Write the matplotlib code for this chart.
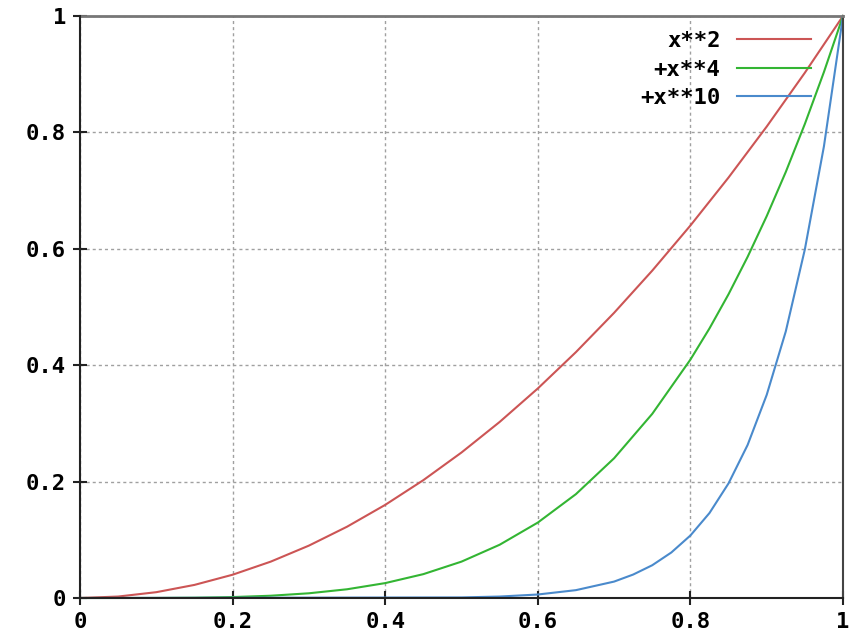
import matplotlib
matplotlib.use("Agg")
import matplotlib.pyplot as plt

# Data
x_sq = [0, 0.05, 0.1, 0.15, 0.2, 0.25, 0.3, 0.35, 0.4, 0.45, 0.5, 0.55, 0.6, 0.65, 0.7, 0.75, 0.8, 0.85, 0.9, 0.95, 1.0]
y_sq = [0, 0.0025, 0.01, 0.0225, 0.04, 0.0625, 0.09, 0.1225, 0.16, 0.2025, 0.25, 0.3025, 0.36, 0.4225, 0.49, 0.5625, 0.64, 0.7225, 0.81, 0.9025, 1.0]

x_4 = [0, 0.05, 0.1, 0.15, 0.2, 0.25, 0.3, 0.35, 0.4, 0.45, 0.5, 0.55, 0.6, 0.65, 0.7, 0.75, 0.8, 0.825, 0.85, 0.875, 0.9, 0.925, 0.95, 0.975, 1.0]
y_4 = [0, 0.0, 0.0001, 0.0005, 0.0016, 0.0039, 0.0081, 0.015, 0.0256, 0.041, 0.0625, 0.0915, 0.1296, 0.1785, 0.2401, 0.3164, 0.4096, 0.4632, 0.522, 0.5862, 0.6561, 0.732, 0.8145, 0.9037, 1.0]

x_10 = [0, 0.5, 0.55, 0.6, 0.65, 0.7, 0.725, 0.75, 0.775, 0.8, 0.825, 0.85, 0.875, 0.9, 0.925, 0.95, 0.975, 1.0]
y_10 = [0, 0.001, 0.0025, 0.006, 0.0135, 0.0282, 0.0403, 0.0563, 0.0782, 0.1074, 0.146, 0.197, 0.263, 0.349, 0.458, 0.599, 0.776, 1.0]

labels = ["x**2", "+x**4", "+x**10"]
colors = ["#cc5555", "#33b533", "#4a8acc"]
ticks = [0, 0.2, 0.4, 0.6, 0.8, 1.0]
tick_labels = ["0", "0.2", "0.4", "0.6", "0.8", "1"]

font = {"family": "DejaVu Sans Mono", "weight": "bold", "size": 16}

fig = plt.figure(figsize=(8.55, 6.44), dpi=100)
ax = fig.add_axes([80/855, 1 - 598/644, (843-80)/855, (598-16)/644])

for xs, ys, lab, c in zip([x_sq, x_4, x_10], [y_sq, y_4, y_10], labels, colors):
    ax.plot(xs, ys, color=c, lw=1.5, label=lab, zorder=2, clip_on=False)

ax.set_xlim(0, 1)
ax.set_ylim(0, 1)
ax.set_xticks(ticks)
ax.set_yticks(ticks)
ax.set_xticklabels(tick_labels, fontdict=font)
ax.set_yticklabels(tick_labels, fontdict=font)
ax.tick_params(direction="inout", length=10, width=1.5, color="#222222", pad=5)
ax.grid(True, color="#a0a0a0", lw=1.0, linestyle=(0, (2.2, 2.2)), zorder=1)
ax.set_axisbelow(True)

for s in ["left", "bottom"]:
    ax.spines[s].set_color("#222222")
    ax.spines[s].set_linewidth(1.5)
    ax.spines[s].set_zorder(3)
ax.spines["top"].set_color("#777777")
ax.spines["top"].set_linewidth(2)
ax.spines["right"].set_color("#444444")
ax.spines["right"].set_linewidth(1.5)

leg = ax.legend(loc="upper right", frameon=False, markerfirst=False,
                prop=font, handlelength=3.33, handletextpad=0.75,
                labelspacing=0.39, borderaxespad=0.0,
                bbox_to_anchor=(1 - 23/763, 1 - 6/582))

fig.savefig("out.png", dpi=100)
